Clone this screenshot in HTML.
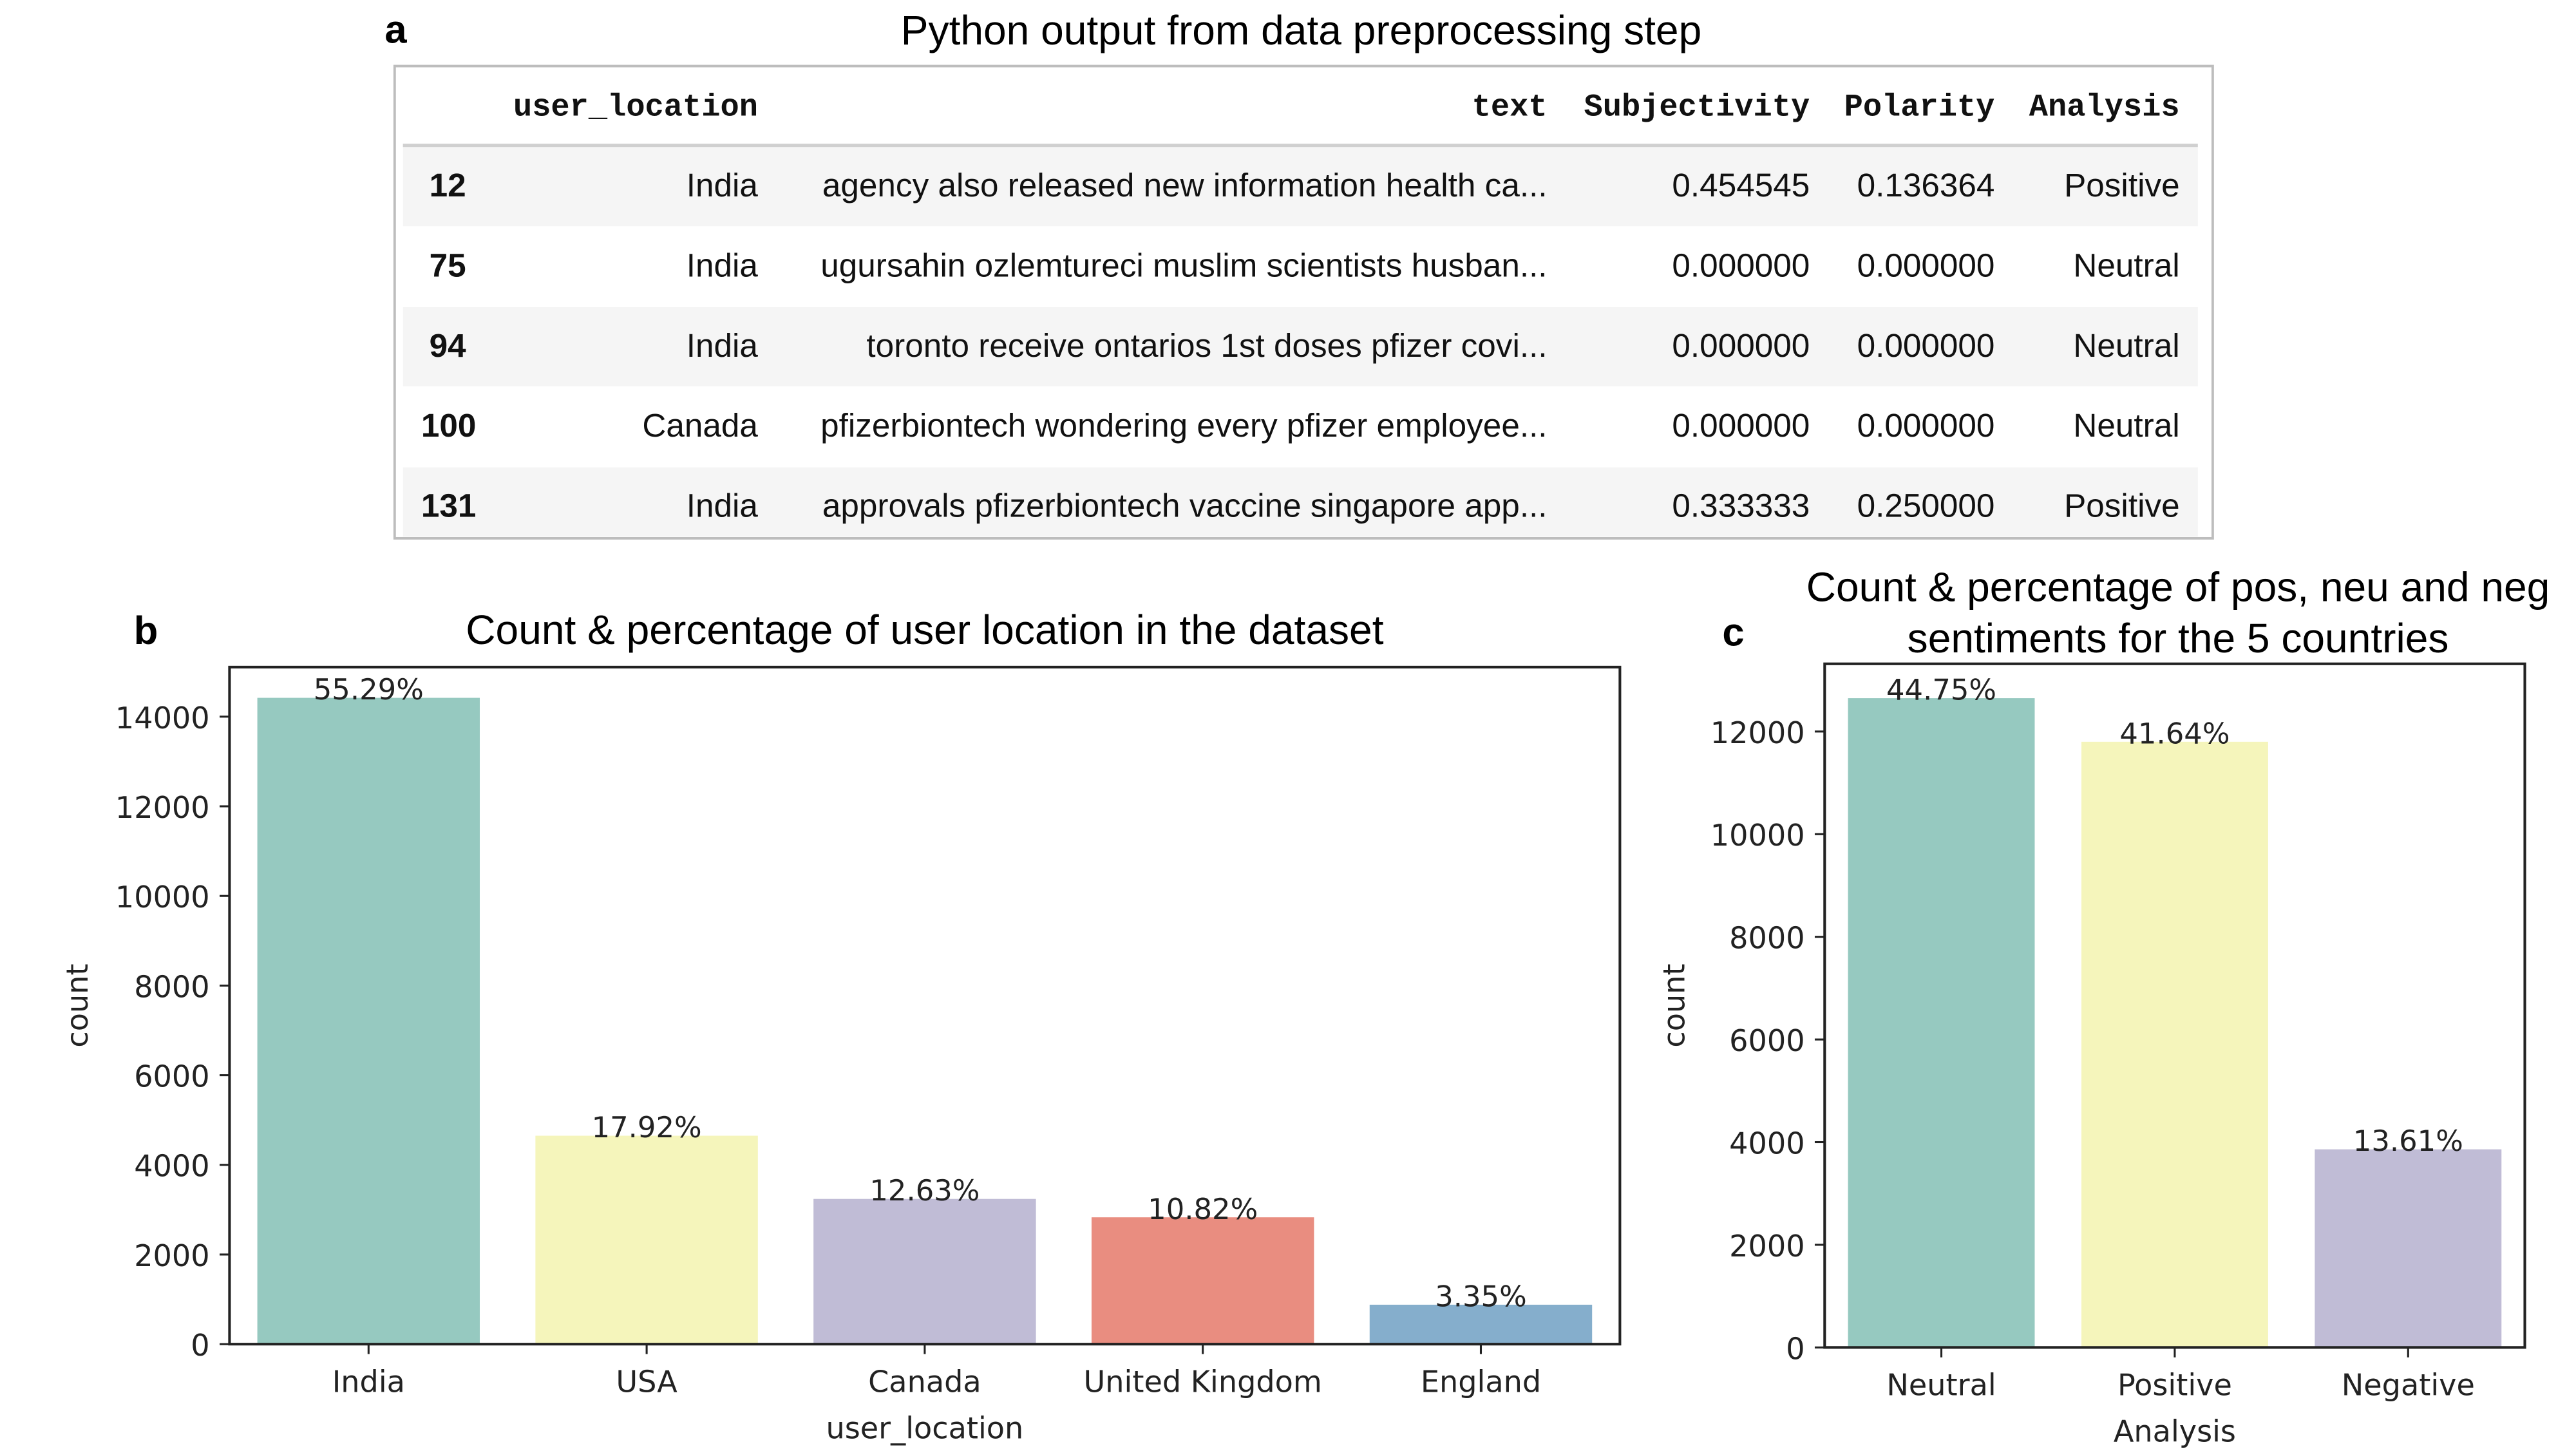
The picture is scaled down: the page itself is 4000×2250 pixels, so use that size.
<!DOCTYPE html>
<html><head><meta charset="utf-8"><style>
html,body{margin:0;padding:0;background:#fff;}
svg{display:block;}
</style></head><body>
<svg id="fig" width="4000" height="2250" viewBox="0 0 1560 877.5" xmlns="http://www.w3.org/2000/svg">
<g id="panelA">
  <text x="233" y="26" font-family="Liberation Sans, sans-serif" font-weight="bold" font-size="24">a</text>
  <text x="788" y="27" text-anchor="middle" font-family="Liberation Sans, sans-serif" font-size="25">Python output from data preprocessing step</text>
  <rect x="239" y="40" width="1101" height="286" fill="#fff" stroke="#bdbdbd" stroke-width="1.5"/>
  <rect x="244" y="89" width="1087" height="48" fill="#f5f5f5"/>
  <rect x="244" y="186" width="1087" height="48" fill="#f5f5f5"/>
  <rect x="244" y="283" width="1087" height="42" fill="#f5f5f5"/>
  <line x1="244" y1="88" x2="1331" y2="88" stroke="#d0d0d0" stroke-width="2"/>
  <g font-family="Liberation Mono, monospace" font-weight="bold" font-size="19" fill="#111">
    <text x="459" y="70" text-anchor="end">user_location</text>
    <text x="937" y="70" text-anchor="end">text</text>
    <text x="1096" y="70" text-anchor="end">Subjectivity</text>
    <text x="1208" y="70" text-anchor="end">Polarity</text>
    <text x="1320" y="70" text-anchor="end">Analysis</text>
  </g>
  <g id="tableBody" font-family="Liberation Sans, sans-serif" font-size="20" fill="#111"></g>
</g>
<g id="chartB"></g>
<g id="chartC"></g>
</svg>
<script>
var tableIdx = ["12","75","94","100","131"];
var tableLoc = ["India","India","India","Canada","India"];
var tableText = ["agency also released new information health ca...","ugursahin ozlemtureci muslim scientists husban...","toronto receive ontarios 1st doses pfizer covi...","pfizerbiontech wondering every pfizer employee...","approvals pfizerbiontech vaccine singapore app..."];
var tableSubj = ["0.454545","0.000000","0.000000","0.000000","0.333333"];
var tablePol = ["0.136364","0.000000","0.000000","0.000000","0.250000"];
var tableAna = ["Positive","Neutral","Neutral","Neutral","Positive"];

var bCategories = ["India","USA","Canada","United Kingdom","England"];
var bValues = [14420, 4650, 3240, 2830, 880];
var bLabels = ["55.29%","17.92%","12.63%","10.82%","3.35%"];
var bTicks = [0,2000,4000,6000,8000,10000,12000,14000];
var bColors = ["#96c9c0","#f5f5bb","#c0bcd6","#e98d80","#85aecc"];

var cCategories = ["Neutral","Positive","Negative"];
var cValues = [12650, 11800, 3860];
var cLabels = ["44.75%","41.64%","13.61%"];
var cTicks = [0,2000,4000,6000,8000,10000,12000];
var cColors = ["#96c9c0","#f5f5bb","#c0bcd6"];

var NS = "http://www.w3.org/2000/svg";
function mk(parent, tag, attrs, txt){
  var e = document.createElementNS(NS, tag);
  for (var k in attrs) e.setAttribute(k, attrs[k]);
  if (txt !== undefined) e.textContent = txt;
  parent.appendChild(e);
  return e;
}

var tb = document.getElementById('tableBody');
for (var i = 0; i < tableIdx.length; i++) {
  var y = 119 + i * 48.5;
  var t;
  t = mk(tb, 'text', {x: 260, y: y, 'font-weight': 'bold'}, tableIdx[i]);
  if (i >= 3) t.setAttribute('x', 255);
  
  
  t = mk(tb, 'text', {x: 459, y: y, 'text-anchor': 'end'}, tableLoc[i]);
  
  
  t = mk(tb, 'text', {x: 937, y: y, 'text-anchor': 'end'}, tableText[i]);
  
  
  t = mk(tb, 'text', {x: 1096, y: y, 'text-anchor': 'end'}, tableSubj[i]);
  
  
  t = mk(tb, 'text', {x: 1208, y: y, 'text-anchor': 'end'}, tablePol[i]);
  
  
  t = mk(tb, 'text', {x: 1320, y: y, 'text-anchor': 'end'}, tableAna[i]);
  
  
}

function drawChart(g, o) {
  var ys = function(v){ return o.y0 - v / o.ymaxRef * (o.y0 - o.yRefPx); };
  var n = o.cats.length;
  var step = (o.x1 - o.x0) / n;
  var font = "DejaVu Sans, sans-serif";
  for (var i = 0; i < n; i++) {
    var cx = o.x0 + step * (i + 0.5);
    var bw = step * 0.8;
    var top = ys(o.vals[i]);
    var r = mk(g, 'rect', {x: cx - bw/2, y: top, width: bw, height: o.y0 - top, fill: o.colors[i]});
    
    
    var lt = mk(g, 'text', {x: cx, y: top + 1, 'text-anchor': 'middle', 'font-family': font, 'font-size': 17.5, fill: '#222'}, o.labels[i]);
    
    
    var tk = mk(g, 'line', {x1: cx, y1: o.y0, x2: cx, y2: o.y0 + 6, stroke: '#222', 'stroke-width': 1.2});
    
    
    var xl = mk(g, 'text', {x: cx, y: o.y0 + 29, 'text-anchor': 'middle', 'font-family': font, 'font-size': 18, fill: '#222'}, o.cats[i]);
    
    
  }
  for (var j = 0; j < o.ticks.length; j++) {
    var ty = ys(o.ticks[j]);
    var yt = mk(g, 'line', {x1: o.x0 - 6, y1: ty, x2: o.x0, y2: ty, stroke: '#222', 'stroke-width': 1.2});
    
    
    var yl = mk(g, 'text', {x: o.x0 - 12, y: ty + 7, 'text-anchor': 'end', 'font-family': font, 'font-size': 18, fill: '#222'}, String(o.ticks[j]));
    
    
  }
  var fr = mk(g, 'rect', {x: o.x0, y: o.yTop, width: o.x1 - o.x0, height: o.y0 - o.yTop, fill: 'none', stroke: '#222', 'stroke-width': 1.6});
  
  
  var yt2 = mk(g, 'text', {x: 0, y: 0, 'text-anchor': 'middle', 'font-family': font, 'font-size': 18, fill: '#222', transform: 'translate(' + o.ylabX + ',' + ((o.y0 + o.yTop)/2) + ') rotate(-90)'}, 'count');
  
  
  var xt = mk(g, 'text', {x: (o.x0 + o.x1)/2, y: o.y0 + 57, 'text-anchor': 'middle', 'font-family': font, 'font-size': 18, fill: '#222'}, o.xTitle);
  
  
}

var gb = document.getElementById('chartB');
drawChart(gb, {x0: 139, x1: 981, y0: 814, yTop: 404, yRefPx: 434, ymaxRef: 14000,
  cats: bCategories, vals: bValues, labels: bLabels, ticks: bTicks, colors: bColors, ylabX: 53, xTitle: 'user_location'});
var tbl = mk(gb, 'text', {x: 81, y: 390, 'font-family': 'Liberation Sans, sans-serif', 'font-weight': 'bold', 'font-size': 24}, 'b');


var tbt = mk(gb, 'text', {x: 560, y: 390, 'text-anchor': 'middle', 'font-family': 'Liberation Sans, sans-serif', 'font-size': 25}, 'Count & percentage of user location in the dataset');



var gc = document.getElementById('chartC');
drawChart(gc, {x0: 1105, x1: 1529, y0: 816, yTop: 402, yRefPx: 443, ymaxRef: 12000,
  cats: cCategories, vals: cValues, labels: cLabels, ticks: cTicks, colors: cColors, ylabX: 1020, xTitle: 'Analysis'});
var tcl = mk(gc, 'text', {x: 1043, y: 391, 'font-family': 'Liberation Sans, sans-serif', 'font-weight': 'bold', 'font-size': 24}, 'c');


var tc1 = mk(gc, 'text', {x: 1319, y: 364, 'text-anchor': 'middle', 'font-family': 'Liberation Sans, sans-serif', 'font-size': 25}, 'Count & percentage of pos, neu and neg');


var tc2 = mk(gc, 'text', {x: 1319, y: 395, 'text-anchor': 'middle', 'font-family': 'Liberation Sans, sans-serif', 'font-size': 25}, 'sentiments for the 5 countries');


</script>
</body></html>
